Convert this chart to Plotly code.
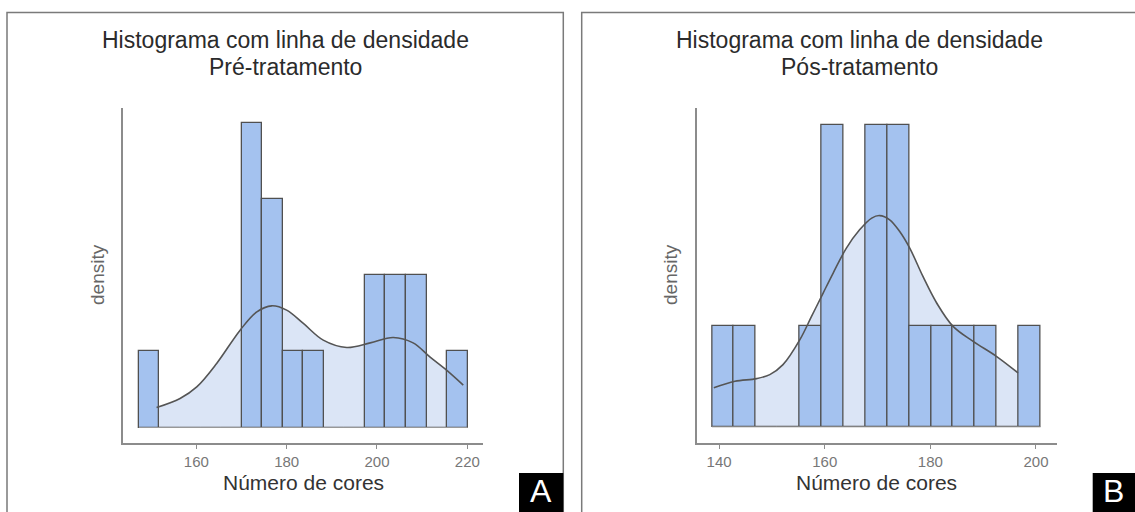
import plotly.graph_objects as go

W, H = 1135, 512

# ---------------- data ----------------
# Panel A: Pré-tratamento
a_bin_centers = [149.57, 154.12, 158.67, 163.22, 167.77, 172.31, 176.86, 181.41,
                 185.96, 190.51, 195.05, 199.60, 204.15, 208.70, 213.25, 217.80]
a_bin_width = 4.548
a_counts = [1, 0, 0, 0, 0, 4, 3, 1, 1, 0, 0, 2, 2, 2, 0, 1]
a_curve_x = [151.2, 156.4, 160.1, 164.5, 169.7, 173.4, 176.7, 180.0, 183.7,
             188.1, 193.3, 198.5, 203.6, 208.0, 211.7, 215.4, 219.1]
a_curve_y = [0.263, 0.382, 0.534, 0.842, 1.280, 1.521, 1.600, 1.543, 1.368,
             1.149, 1.053, 1.113, 1.184, 1.113, 0.929, 0.754, 0.557]
a_ticks = [160, 180, 200, 220]

# Panel B: Pós-tratamento
b_bin_centers = [140.74, 144.89, 149.04, 153.18, 157.33, 161.48, 165.62, 169.77,
                 173.92, 178.06, 182.21, 186.36, 190.50, 194.65, 198.80]
b_bin_width = 4.147
b_counts = [1, 1, 0, 0, 1, 3, 0, 3, 3, 1, 1, 1, 1, 0, 1]
b_curve_x = [139.0, 143.0, 147.1, 149.6, 152.1, 155.3, 157.5, 159.7, 161.6, 164.1,
             166.6, 168.9, 170.4, 172.3, 174.2, 176.1, 178.6, 181.2, 184.3, 188.1,
             192.5, 196.6]
b_curve_y = [0.388, 0.453, 0.480, 0.520, 0.619, 0.868, 1.099, 1.332, 1.531, 1.779,
             1.961, 2.078, 2.103, 2.061, 1.944, 1.779, 1.497, 1.233, 1.000, 0.851,
             0.702, 0.537]
b_ticks = [140, 160, 180, 200]

title_main = "Histograma com linha de densidade"
subtitles = ["Pré-tratamento", "Pós-tratamento"]
x_title = "Número de cores"
y_title = "density"
panel_labels = ["A", "B"]

# ---------------- styling ----------------
FONT = "Liberation Sans, Arial, Helvetica, sans-serif"
BAR_FILL = "#a4c2ef"
BAR_EDGE = "#505050"
AREA_FILL = "#dbe5f6"
CURVE = "#555555"
AXIS = "#8c8c8c"

def px(x):
    return x / W

def py(y):
    return 1 - y / H

fig = go.Figure()

panels = [
    dict(centers=a_bin_centers, width=a_bin_width, counts=a_counts,
         cx=a_curve_x, cy=a_curve_y, ticks=a_ticks,
         xdom=(123, 483), xr=(143.77, 223.47), yr=(-0.197, 4.201),
         box=(7, 563.3), title_x=285, ylab_x=97),
    dict(centers=b_bin_centers, width=b_bin_width, counts=b_counts,
         cx=b_curve_x, cy=b_curve_y, ticks=b_ticks,
         xdom=(696.5, 1057.3), xr=(135.72, 204.04), yr=(-0.156, 3.174),
         box=(581.7, 1138), title_x=859, ylab_x=670),
]

ydom = [py(442.5), py(108)]
layout_axes = {}
annotations = []
shapes = []

for i, p in enumerate(panels):
    base = 2 * i + 1           # main axes: fill area
    over = 2 * i + 2           # overlay axes: bars + curve line
    xm, ym = f"x{base}", f"y{base}"
    xo, yo = f"x{over}", f"y{over}"
    xdom = [px(p["xdom"][0]), px(p["xdom"][1])]

    # area under density curve (behind bars)
    fig.add_trace(go.Scatter(
        x=p["cx"], y=p["cy"], mode="lines", line=dict(width=0, shape="spline", smoothing=1.0),
        fill="tozeroy", fillcolor=AREA_FILL, hoverinfo="skip", showlegend=False,
        xaxis=xm, yaxis=ym))
    # histogram bars
    fig.add_trace(go.Bar(
        x=p["centers"], y=p["counts"], width=[p["width"]] * len(p["centers"]),
        marker=dict(color=BAR_FILL, line=dict(color=BAR_EDGE, width=1.3)),
        showlegend=False, xaxis=xo, yaxis=yo))
    # baseline of the histogram (empty bins)
    lo = p["centers"][0] - p["width"] / 2
    hi = p["centers"][-1] + p["width"] / 2
    fig.add_trace(go.Scatter(
        x=[lo, hi], y=[0, 0], mode="lines", line=dict(color="#9a9a9a", width=1),
        hoverinfo="skip", showlegend=False, xaxis=xo, yaxis=yo))
    # density line
    fig.add_trace(go.Scatter(
        x=p["cx"], y=p["cy"], mode="lines",
        line=dict(color=CURVE, width=1.6, shape="spline", smoothing=1.0),
        showlegend=False, xaxis=xo, yaxis=yo))

    xkey_m = "xaxis" if base == 1 else f"xaxis{base}"
    ykey_m = "yaxis" if base == 1 else f"yaxis{base}"
    layout_axes[xkey_m] = dict(
        domain=xdom, range=list(p["xr"]), anchor=ym, showgrid=False, zeroline=False,
        showline=True, linecolor=AXIS, linewidth=1.5, ticks="outside", ticklen=5,
        tickwidth=1.3, tickcolor=AXIS, tickvals=p["ticks"],
        ticktext=[str(t) for t in p["ticks"]],
        tickfont=dict(family=FONT, size=15, color="#777777"))
    layout_axes[ykey_m] = dict(
        domain=ydom, range=list(p["yr"]), anchor=xm, showgrid=False, zeroline=False,
        showline=True, linecolor=AXIS, linewidth=1.5, showticklabels=False, ticks="")
    layout_axes[f"xaxis{over}"] = dict(
        domain=xdom, range=list(p["xr"]), anchor=yo, overlaying=xm, visible=False)
    layout_axes[f"yaxis{over}"] = dict(
        domain=ydom, range=list(p["yr"]), anchor=xo, overlaying=ym, visible=False)

    annotations += [
        dict(text=title_main, x=px(p["title_x"]), y=py(40), xref="paper", yref="paper",
             xanchor="center", yanchor="middle", showarrow=False,
             font=dict(family=FONT, size=23, color="#2b2b2b")),
        dict(text=subtitles[i], x=px(p["title_x"]), y=py(67), xref="paper", yref="paper",
             xanchor="center", yanchor="middle", showarrow=False,
             font=dict(family=FONT, size=23, color="#2b2b2b")),
        dict(text=x_title, x=(xdom[0] + xdom[1]) / 2, y=py(482), xref="paper", yref="paper",
             xanchor="center", yanchor="middle", showarrow=False,
             font=dict(family=FONT, size=21, color="#333333")),
        dict(text=y_title, x=px(p["ylab_x"]), y=py(275), xref="paper", yref="paper",
             xanchor="center", yanchor="middle", showarrow=False, textangle=-90,
             font=dict(family=FONT, size=19, color="#666666")),
    ]
    # panel border
    shapes.append(dict(type="rect", xref="paper", yref="paper",
                       x0=px(p["box"][0]), x1=px(p["box"][1]), y0=py(525), y1=py(12.5),
                       line=dict(color="#7a7a7a", width=1.5), fillcolor="rgba(0,0,0,0)",
                       layer="below"))

# panel label boxes
label_boxes = [(519, 563.3), (1092.7, 1140)]
for lab, (x0, x1) in zip(panel_labels, label_boxes):
    shapes.append(dict(type="rect", xref="paper", yref="paper",
                       x0=px(x0), x1=px(x1), y0=py(520), y1=py(473),
                       line=dict(width=0), fillcolor="#000000", layer="above"))
    annotations.append(dict(text=lab, x=px((x0 + min(x1, 1135)) / 2), y=py(491),
                            xref="paper", yref="paper", xanchor="center", yanchor="middle",
                            showarrow=False,
                            font=dict(family=FONT, size=32, color="#ffffff")))

fig.update_layout(
    width=W, height=H, margin=dict(l=0, r=0, t=0, b=0),
    paper_bgcolor="white", plot_bgcolor="rgba(0,0,0,0)",
    showlegend=False, bargap=0, annotations=annotations, shapes=shapes,
    **layout_axes)

fig.write_html("out.html", config={"displayModeBar": False},
               post_script="document.body.style.margin='0px';document.body.style.overflow='hidden';")
